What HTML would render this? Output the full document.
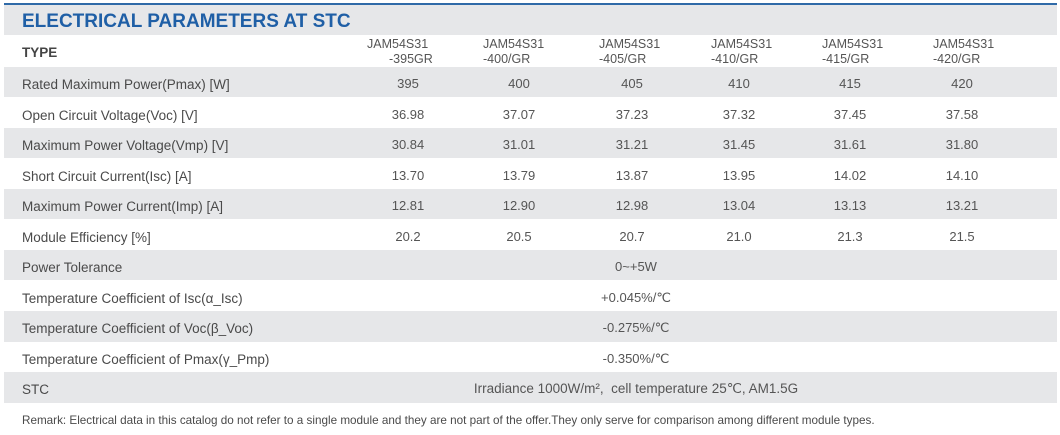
<!DOCTYPE html>
<html><head><meta charset="utf-8"><style>
body{margin:0;width:1060px;height:435px;background:#fff;position:relative;overflow:hidden;font-family:"Liberation Sans",Arial,sans-serif;color:#4a4a4a}
.a{position:absolute;white-space:nowrap}
.g{position:absolute;left:4px;width:1053px;background:#e6e7e9}
.l{position:absolute;left:22px;font-size:13.5px;line-height:30px;top:3px}
.v{position:absolute;font-size:13px;line-height:30px;width:80px;text-align:center;margin-left:-40px;top:2px;color:#555}
.h{position:absolute;font-size:12.5px;line-height:15px;color:#555}
</style></head><body>
<div class="a" style="left:4px;top:3px;width:1053px;height:2px;background:#2f6aa8"></div>
<div class="g" style="top:5px;height:30px"></div>
<div class="a" style="left:22px;top:9px;font-size:19px;font-weight:bold;color:#1f5fa6;line-height:26px">ELECTRICAL PARAMETERS AT STC</div>
<div class="a" style="left:22px;top:45px;font-size:13.5px;font-weight:bold;color:#444">TYPE</div>
<div class="h" style="left:367px;top:37px">JAM54S31<br><span style="margin-left:22px">-395GR</span></div>
<div class="h" style="left:483px;top:37px">JAM54S31<br>-400/GR</div>
<div class="h" style="left:599px;top:37px">JAM54S31<br>-405/GR</div>
<div class="h" style="left:711px;top:37px">JAM54S31<br>-410/GR</div>
<div class="h" style="left:822px;top:37px">JAM54S31<br>-415/GR</div>
<div class="h" style="left:933px;top:37px">JAM54S31<br>-420/GR</div>
<div class="g" style="top:67px;height:30px"></div>
<div class="g" style="top:128px;height:30px"></div>
<div class="g" style="top:189px;height:30px"></div>
<div class="g" style="top:250px;height:30px"></div>
<div class="g" style="top:311px;height:31px"></div>
<div class="g" style="top:372px;height:31px"></div>
<div style="position:absolute;left:0;top:67px;width:1060px">
<div style="position:relative;height:30.5px"><span class="l">Rated Maximum Power(Pmax) [W]</span><span class="v" style="left:408px">395</span><span class="v" style="left:519px">400</span><span class="v" style="left:632px">405</span><span class="v" style="left:739px">410</span><span class="v" style="left:850px">415</span><span class="v" style="left:962px">420</span></div>
<div style="position:relative;height:30.5px"><span class="l">Open Circuit Voltage(Voc) [V]</span><span class="v" style="left:408px">36.98</span><span class="v" style="left:519px">37.07</span><span class="v" style="left:632px">37.23</span><span class="v" style="left:739px">37.32</span><span class="v" style="left:850px">37.45</span><span class="v" style="left:962px">37.58</span></div>
<div style="position:relative;height:30.5px"><span class="l">Maximum Power Voltage(Vmp) [V]</span><span class="v" style="left:408px">30.84</span><span class="v" style="left:519px">31.01</span><span class="v" style="left:632px">31.21</span><span class="v" style="left:739px">31.45</span><span class="v" style="left:850px">31.61</span><span class="v" style="left:962px">31.80</span></div>
<div style="position:relative;height:30.5px"><span class="l">Short Circuit Current(Isc) [A]</span><span class="v" style="left:408px">13.70</span><span class="v" style="left:519px">13.79</span><span class="v" style="left:632px">13.87</span><span class="v" style="left:739px">13.95</span><span class="v" style="left:850px">14.02</span><span class="v" style="left:962px">14.10</span></div>
<div style="position:relative;height:30.5px"><span class="l">Maximum Power Current(Imp) [A]</span><span class="v" style="left:408px">12.81</span><span class="v" style="left:519px">12.90</span><span class="v" style="left:632px">12.98</span><span class="v" style="left:739px">13.04</span><span class="v" style="left:850px">13.13</span><span class="v" style="left:962px">13.21</span></div>
<div style="position:relative;height:30.5px"><span class="l">Module Efficiency [%]</span><span class="v" style="left:408px">20.2</span><span class="v" style="left:519px">20.5</span><span class="v" style="left:632px">20.7</span><span class="v" style="left:739px">21.0</span><span class="v" style="left:850px">21.3</span><span class="v" style="left:962px">21.5</span></div>
<div style="position:relative;height:30.5px"><span class="l">Power Tolerance</span><span class="v" style="left:636px;width:200px;margin-left:-100px">0~+5W</span></div>
<div style="position:relative;height:30.5px"><span class="l">Temperature Coefficient of Isc(α_Isc)</span><span class="v" style="left:636px;width:200px;margin-left:-100px">+0.045%/℃</span></div>
<div style="position:relative;height:30.5px"><span class="l">Temperature Coefficient of Voc(β_Voc)</span><span class="v" style="left:636px;width:200px;margin-left:-100px">-0.275%/℃</span></div>
<div style="position:relative;height:30.5px"><span class="l">Temperature Coefficient of Pmax(γ_Pmp)</span><span class="v" style="left:636px;width:200px;margin-left:-100px">-0.350%/℃</span></div>
<div style="position:relative;height:30.5px"><span class="l">STC</span><span class="v" style="left:636px;width:400px;margin-left:-200px;font-size:13.5px">Irradiance 1000W/m², &nbsp;cell temperature 25℃, AM1.5G</span></div>
</div>
<div class="a" style="left:22px;top:414px;font-size:11.7px">Remark: Electrical data in this catalog do not refer to a single module and they are not part of the offer.They only serve for comparison among different module types.</div>
</body></html>
